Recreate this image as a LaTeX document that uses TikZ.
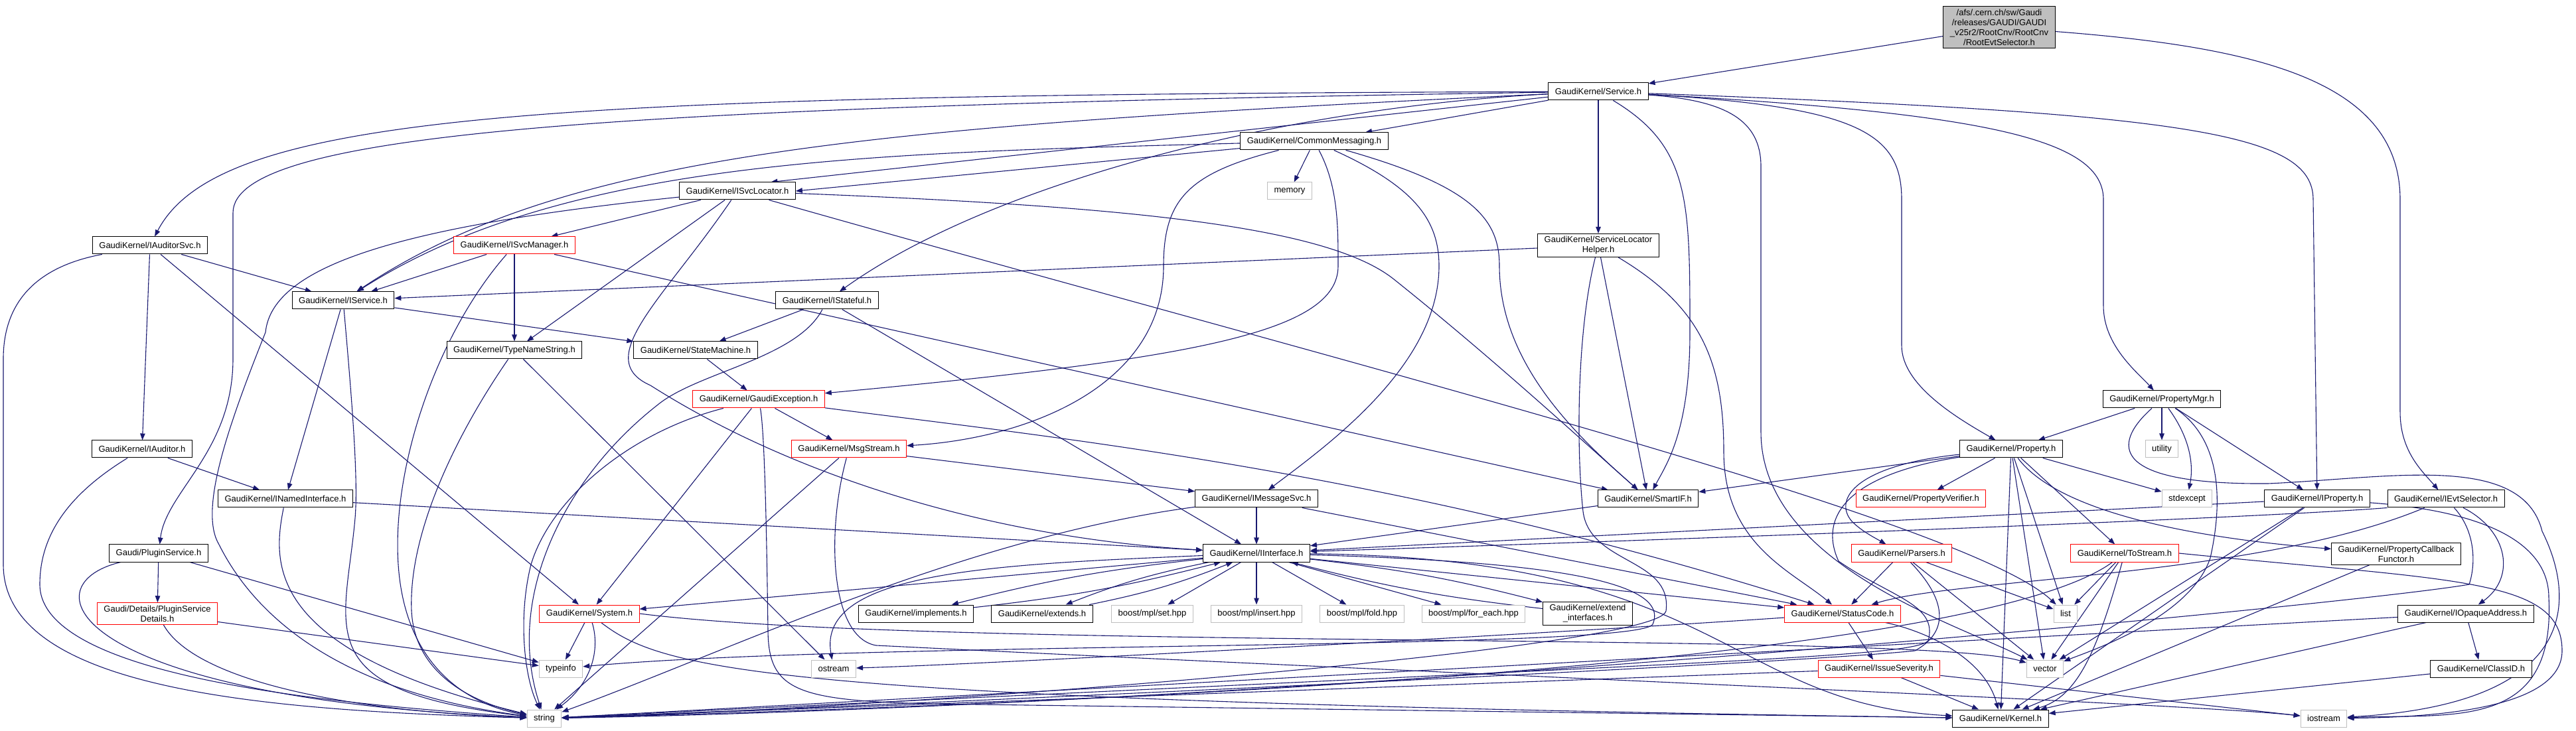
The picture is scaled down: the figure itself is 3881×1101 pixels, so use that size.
\documentclass[tikz,border=0pt]{standalone}
\usepackage{fontspec}
\setmainfont{Liberation Sans}
\usetikzlibrary{arrows.meta}

\definecolor{edgeblue}{HTML}{191970}
\definecolor{sysgray}{HTML}{BFBFBF}

\pgfdeclarelayer{edges}
\pgfsetlayers{edges,main}

\tikzset{
    hdr/.style={draw=black, fill=white, line width=1pt, align=center,
        font=\fontsize{13}{15}\selectfont, inner xsep=10pt, inner ysep=4pt,
        minimum height=26pt},
    trunc/.style={hdr, draw=red},
    sys/.style={hdr, draw=sysgray},
    topfile/.style={hdr, fill=sysgray},
    dep/.style={draw=edgeblue, line width=1.1pt, -{Triangle[length=10pt,width=7.5pt]}}
}

\begin{document}
\begin{tikzpicture}[x=1pt,y=1pt]
        \useasboundingbox (0,0) rectangle (3881,1101);

        % Draw the header boxes
        \node[topfile] (root) at (3012,1060) {/afs/.cern.ch/sw/Gaudi\\/releases/GAUDI/GAUDI\\\_v25r2/RootCnv/RootCnv\\/RootEvtSelector.h};
        \node[hdr] (service) at (2408,963) {GaudiKernel/Service.h};
        \node[hdr] (commsg) at (1980,888) {GaudiKernel/CommonMessaging.h};
        \node[sys] (memory) at (1943,813) {memory};
        \node[hdr] (slhelper) at (2408,731) {GaudiKernel/ServiceLocator\\Helper.h};
        \node[hdr] (isvcloc) at (1111,813) {GaudiKernel/ISvcLocator.h};
        \node[hdr] (iauditsvc) at (226,731) {GaudiKernel/IAuditorSvc.h};
        \node[trunc] (isvcmgr) at (775,731) {GaudiKernel/ISvcManager.h};
        \node[hdr] (iservice) at (517,648) {GaudiKernel/IService.h};
        \node[hdr] (istateful) at (1246,648) {GaudiKernel/IStateful.h};
        \node[hdr] (typename) at (775,573) {GaudiKernel/TypeNameString.h};
        \node[hdr] (statemach) at (1048,573) {GaudiKernel/StateMachine.h};
        \node[trunc] (gexcept) at (1143,499) {GaudiKernel/GaudiException.h};
        \node[trunc] (msgstream) at (1279,424) {GaudiKernel/MsgStream.h};
        \node[hdr] (iauditor) at (214,424) {GaudiKernel/IAuditor.h};
        \node[hdr] (inamed) at (430,349) {GaudiKernel/INamedInterface.h};
        \node[hdr] (plugin) at (239,267) {Gaudi/PluginService.h};
        \node[trunc] (plugindet) at (237,176) {Gaudi/Details/PluginService\\Details.h};
        \node[trunc] (system) at (888,176) {GaudiKernel/System.h};
        \node[sys] (typeinfo) at (845,93) {typeinfo};
        \node[sys] (ostream) at (1256,93) {ostream};
        \node[sys] (string) at (820,18) {string};
        \node[hdr] (imsgsvc) at (1893,349) {GaudiKernel/IMessageSvc.h};
        \node[hdr] (smartif) at (2483,349) {GaudiKernel/SmartIF.h};
        \node[hdr] (iiface) at (1893,267) {GaudiKernel/IInterface.h};
        \node[hdr] (implements) at (1380,176) {GaudiKernel/implements.h};
        \node[hdr] (extends) at (1570,176) {GaudiKernel/extends.h};
        \node[sys] (mplset) at (1736,176) {boost/mpl/set.hpp};
        \node[sys] (mplinsert) at (1893,176) {boost/mpl/insert.hpp};
        \node[sys] (mplfold) at (2052,176) {boost/mpl/fold.hpp};
        \node[sys] (mplforeach) at (2220,176) {boost/mpl/for\_each.hpp};
        \node[hdr] (extendif) at (2392,176) {GaudiKernel/extend\\\_interfaces.h};
        \node[hdr] (propmgr) at (3257,499) {GaudiKernel/PropertyMgr.h};
        \node[hdr] (property) at (3030,424) {GaudiKernel/Property.h};
        \node[sys] (utility) at (3257,424) {utility};
        \node[trunc] (propverif) at (2894,349) {GaudiKernel/PropertyVerifier.h};
        \node[sys] (stdexcept) at (3295,349) {stdexcept};
        \node[hdr] (iproperty) at (3491,349) {GaudiKernel/IProperty.h};
        \node[hdr] (ievtsel) at (3685,349) {GaudiKernel/IEvtSelector.h};
        \node[trunc] (parsers) at (2865,267) {GaudiKernel/Parsers.h};
        \node[trunc] (tostream) at (3201,267) {GaudiKernel/ToStream.h};
        \node[hdr] (propcb) at (3610,266) {GaudiKernel/PropertyCallback\\Functor.h};
        \node[sys] (list) at (3112,176) {list};
        \node[trunc] (statuscode) at (2776,176) {GaudiKernel/StatusCode.h};
        \node[hdr] (iopaque) at (3715,176) {GaudiKernel/IOpaqueAddress.h};
        \node[sys] (vector) at (3081,93) {vector};
        \node[trunc] (issuesev) at (2831,93) {GaudiKernel/IssueSeverity.h};
        \node[hdr] (classid) at (3738,93) {GaudiKernel/ClassID.h};
        \node[hdr] (kernel) at (3014,18) {GaudiKernel/Kernel.h};
        \node[sys] (iostream) at (3501,18) {iostream};

        \begin{pgfonlayer}{edges}
        % Draw the includes of the root file
        \draw[dep] (root) -- (service);
        \draw[dep] (root) .. controls (3400,1030) and (3616,980) .. (3616,800) -- (3616,480) .. controls (3616,420) and (3650,390) .. (ievtsel);

        % Service.h
        \draw[dep] (service) -- (commsg);
        \draw[dep] (service) -- (slhelper);
        \draw[dep] (service) -- (isvcloc.15);
        \draw[dep] (service) .. controls (1300,910) and (850,870) .. (iservice);
        \draw[dep] (service) .. controls (800,958) and (330,930) .. (iauditsvc);
        \draw[dep] (service) .. controls (900,940) and (351,900) .. (351,780) -- (351,560) .. controls (351,420) and (250,360) .. (plugin);
        \draw[dep] (service) .. controls (1950,940) and (1500,830) .. (istateful);
        \draw[dep] (service) .. controls (2546,880) and (2546,800) .. (2546,600) .. controls (2546,450) and (2510,400) .. (smartif);
        \draw[dep] (service) .. controls (2600,950) and (2653,920) .. (2653,850) -- (2653,450) .. controls (2653,250) and (2950,160) .. (vector);
        \draw[dep] (service) .. controls (2800,940) and (2865,900) .. (2865,800) -- (2865,580) .. controls (2865,520) and (2950,470) .. (property);
        \draw[dep] (service) .. controls (3000,930) and (3169,890) .. (3169,800) -- (3169,640) .. controls (3169,580) and (3220,540) .. (propmgr);
        \draw[dep] (service) .. controls (3300,930) and (3485,900) .. (3485,800) -- (iproperty);

        % CommonMessaging.h
        \draw[dep] (commsg) -- (memory);
        \draw[dep] (commsg) -- (isvcloc.east);
        \draw[dep] (commsg) .. controls (1300,870) and (850,860) .. (iservice);
        \draw[dep] (commsg) .. controls (2016,820) and (2016,760) .. (2016,700) .. controls (2016,600) and (1800,560) .. (gexcept);
        \draw[dep] (commsg) .. controls (1790,840) and (1753,800) .. (1753,700) .. controls (1753,520) and (1550,440) .. (msgstream);
        \draw[dep] (commsg) .. controls (2130,820) and (2168,770) .. (2168,700) .. controls (2168,550) and (2000,430) .. (imsgsvc);
        \draw[dep] (commsg) .. controls (2220,820) and (2259,770) .. (2259,700) .. controls (2259,550) and (2380,440) .. (smartif);

        % ServiceLocatorHelper.h
        \draw[dep] (slhelper) -- (iservice);
        \draw[dep] (slhelper) -- (smartif);
        \draw[dep] (slhelper) .. controls (2560,640) and (2597,560) .. (2597,420) .. controls (2597,280) and (2700,240) .. (statuscode);
        \draw[dep] (slhelper) .. controls (2375,600) and (2375,420) .. (2385,330) .. controls (2395,250) and (2520,260) .. (2510,180) .. controls (2500,120) and (1300,30) .. (string);

        % ISvcLocator.h
        \draw[dep] (isvcloc) -- (isvcmgr);
        \draw[dep] (isvcloc) -- (typename);
        \draw[dep] (isvcloc) .. controls (1000,650) and (890,560) .. (980,520) .. controls (1200,380) and (1500,290) .. (iiface);
        \draw[dep] (isvcloc) .. controls (2000,560) and (2960,320) .. (list);
        \draw[dep] (isvcloc) .. controls (1700,790) and (2000,760) .. (2100,680) .. controls (2250,560) and (2380,440) .. (smartif);
        \draw[dep] (isvcloc) .. controls (600,760) and (410,700) .. (400,600) .. controls (340,450) and (300,330) .. (330,280) .. controls (380,180) and (500,60) .. (string);

        % ISvcManager.h
        \draw[dep] (isvcmgr) -- (iservice);
        \draw[dep] (isvcmgr) -- (typename);
        \draw[dep] (isvcmgr) .. controls (660,600) and (590,400) .. (600,250) .. controls (610,100) and (700,40) .. (string);
        \draw[dep] (isvcmgr) -- (smartif);

        % IAuditorSvc.h
        \draw[dep] (iauditsvc) -- (iservice);
        \draw[dep] (iauditsvc) -- (iauditor);
        \draw[dep] (iauditsvc) .. controls (60,700) and (5,650) .. (5,560) -- (5,250) .. controls (5,60) and (400,30) .. (string);
        \draw[dep] (iauditsvc) -- (system);

        % IService.h and IStateful.h
        \draw[dep] (iservice) -- (inamed);
        \draw[dep] (iservice) -- (statemach);
        \draw[dep] (iservice) .. controls (530,500) and (540,380) .. (535,320) .. controls (520,150) and (460,60) .. (string);
        \draw[dep] (istateful) -- (statemach);
        \draw[dep] (istateful) .. controls (1200,560) and (1050,540) .. (990,490) .. controls (850,380) and (760,200) .. (string);
        \draw[dep] (istateful) -- (iiface);

        % TypeNameString.h and StateMachine.h
        \draw[dep] (typename) .. controls (690,450) and (615,300) .. (620,180) .. controls (625,80) and (720,40) .. (string);
        \draw[dep] (typename) -- (ostream);
        \draw[dep] (statemach) -- (gexcept);

        % GaudiException.h
        \draw[dep] (gexcept) -- (msgstream);
        \draw[dep] (gexcept) -- (system);
        \draw[dep] (gexcept) .. controls (950,450) and (830,350) .. (800,250) .. controls (780,170) and (790,80) .. (string);
        \draw[dep] (gexcept) .. controls (1600,440) and (2100,390) .. (statuscode);
        \draw[dep] (gexcept) .. controls (1152,450) and (1155,300) .. (1157,150) .. controls (1158,60) and (1200,45) .. (1400,40) -- (kernel);

        % MsgStream.h
        \draw[dep] (msgstream) -- (imsgsvc);
        \draw[dep] (msgstream) -- (string);
        \draw[dep] (msgstream) .. controls (1245,300) and (1250,140) .. (1320,128) .. controls (2300,80) and (3300,40) .. (iostream);

        % IAuditor.h and INamedInterface.h
        \draw[dep] (iauditor) -- (inamed);
        \draw[dep] (iauditor) .. controls (110,360) and (60,300) .. (60,220) .. controls (60,80) and (500,40) .. (string);
        \draw[dep] (inamed) -- (iiface);
        \draw[dep] (inamed) .. controls (410,250) and (400,120) .. (string);

        % the plugin service
        \draw[dep] (plugin) -- (plugindet);
        \draw[dep] (plugin) -- (typeinfo);
        \draw[dep] (plugin) .. controls (40,220) and (100,50) .. (string);
        \draw[dep] (plugindet) -- (typeinfo);
        \draw[dep] (plugindet) .. controls (290,80) and (500,30) .. (string);

        % System.h
        \draw[dep] (system) -- (typeinfo);
        \draw[dep] (system) .. controls (905,120) and (890,70) .. (string);
        \draw[dep] (system) .. controls (1000,90) and (1150,45) .. (kernel);
        \draw[dep] (system.east) .. controls (1400,120) and (2900,150) .. (vector);

        % IMessageSvc.h and SmartIF.h
        \draw[dep] (imsgsvc) -- (iiface);
        \draw[dep] (imsgsvc) .. controls (1450,290) and (1100,120) .. (string);
        \draw[dep] (imsgsvc) -- (statuscode);
        \draw[dep] (smartif) -- (iiface);

        % IInterface.h
        \draw[dep] (iiface) to[bend right=4] (implements);
        \draw[dep] (implements) to[bend right=4] (iiface);
        \draw[dep] (iiface) to[bend right=5] (extends);
        \draw[dep] (extends) to[bend right=5] (iiface);
        \foreach \lib in {mplset,mplinsert,mplfold,mplforeach}
            \draw[dep] (iiface) -- (\lib);
        \draw[dep] (iiface) to[bend left=4] (extendif);
        \draw[dep] (extendif) to[bend left=4] (iiface);
        \draw[dep] (iiface) -- (system);
        \draw[dep] (iiface) -- (statuscode);
        \draw[dep] (iiface) .. controls (2600,260) and (2600,40) .. (kernel);
        \draw[dep] (iiface) .. controls (1500,250) and (1230,240) .. (ostream);
        \draw[dep] (iiface) .. controls (2300,255) and (2520,230) .. (2490,160) .. controls (2470,120) and (1300,135) .. (typeinfo);

        % PropertyMgr.h
        \draw[dep] (propmgr) -- (property);
        \draw[dep] (propmgr) -- (utility);
        \draw[dep] (propmgr) .. controls (3300,440) and (3305,400) .. (stdexcept);
        \draw[dep] (propmgr) -- (iproperty);
        \draw[dep] (propmgr) .. controls (3345,440) and (3350,350) .. (3330,260) .. controls (3300,170) and (3150,120) .. (vector);
        \draw[dep] (propmgr) .. controls (3180,430) and (3180,370) .. (3417,372) .. controls (3600,380) and (3800,420) .. (3830,300) .. controls (3880,200) and (3890,40) .. (iostream);

        % Property.h
        \draw[dep] (property) -- (propverif);
        \draw[dep] (property) -- (smartif);
        \draw[dep] (property) .. controls (2800,400) and (2760,350) .. (2790,315) .. controls (2805,300) and (2825,290) .. (parsers);
        \draw[dep] (property) -- (tostream);
        \draw[dep] (property) .. controls (3100,330) and (3300,290) .. (propcb);
        \draw[dep] (property) -- (stdexcept);
        \draw[dep] (property) -- (list);
        \draw[dep] (property) -- (vector);
        \draw[dep] (property) -- (kernel);
        \draw[dep] (property) .. controls (2780,385) and (2740,320) .. (2770,255) .. controls (2850,200) and (2920,190) .. (2905,135) .. controls (2880,110) and (2600,105) .. (string);

        % IProperty.h
        \draw[dep] (iproperty) -- (iiface);
        \draw[dep] (iproperty) -- (vector);
        \draw[dep] (iproperty) -- (kernel);
        \draw[dep] (iproperty) .. controls (3750,330) and (3840,280) .. (3840,200) .. controls (3850,0) and (3700,25) .. (iostream);

        % IEvtSelector.h
        \draw[dep] (ievtsel.south west) .. controls (3400,320) and (2600,290) .. (iiface);
        \draw[dep] (ievtsel) .. controls (3400,230) and (2950,230) .. (statuscode);
        \draw[dep] (ievtsel) .. controls (3780,300) and (3790,230) .. (iopaque);
        \draw[dep] (ievtsel) .. controls (3730,300) and (3730,250) .. (3720,220) .. controls (3550,190) and (2000,40) .. (string);

        % PropertyCallbackFunctor.h, Parsers.h and ToStream.h
        \draw[dep] (propcb) -- (kernel);
        \draw[dep] (parsers) -- (statuscode);
        \draw[dep] (parsers) -- (vector);
        \draw[dep] (parsers) -- (list);
        \draw[dep] (parsers) .. controls (2930,200) and (2940,150) .. (2885,120) .. controls (2700,100) and (1400,40) .. (string);
        \draw[dep] (tostream) -- (list);
        \draw[dep] (tostream) -- (vector);
        \draw[dep] (tostream) .. controls (3160,120) and (3130,50) .. (kernel);
        \draw[dep] (tostream.east) .. controls (3700,225) and (3860,230) .. (3860,120) .. controls (3860,40) and (3700,20) .. (iostream);
        \draw[dep] (tostream) .. controls (3000,120) and (2000,50) .. (string);

        % StatusCode.h and IssueSeverity.h
        \draw[dep] (statuscode) -- (issuesev);
        \draw[dep] (statuscode) .. controls (2900,150) and (2990,110) .. (kernel);
        \draw[dep] (statuscode) .. controls (2400,150) and (1500,100) .. (ostream);
        \draw[dep] (issuesev) -- (kernel);
        \draw[dep] (issuesev) -- (iostream);
        \draw[dep] (issuesev) -- (string);

        % IOpaqueAddress.h and ClassID.h
        \draw[dep] (iopaque) -- (classid);
        \draw[dep] (iopaque) -- (kernel);
        \draw[dep] (iopaque) -- (string);
        \draw[dep] (classid) -- (kernel);
        \end{pgfonlayer}
\end{tikzpicture}
\end{document}
